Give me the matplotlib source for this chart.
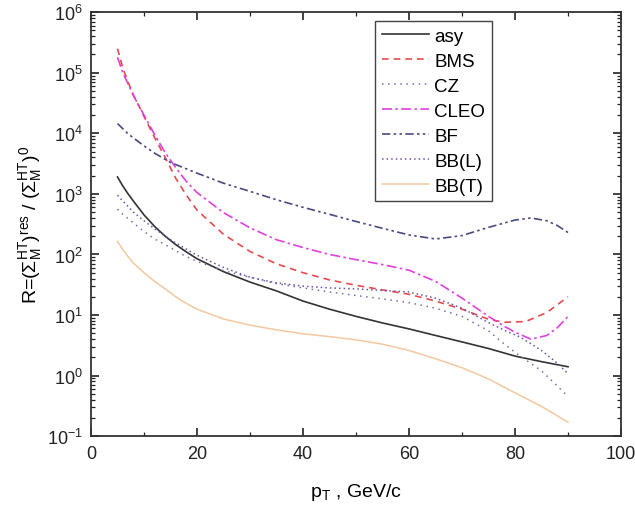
import matplotlib
matplotlib.use("Agg")
import matplotlib.pyplot as plt
from matplotlib.ticker import MultipleLocator, LogLocator, NullFormatter

plt.rcParams['font.family'] = ['Liberation Sans', 'DejaVu Sans']
plt.rcParams['mathtext.fontset'] = 'custom'
plt.rcParams['mathtext.rm'] = 'Liberation Sans'
plt.rcParams['mathtext.it'] = 'Liberation Sans:italic'

# values
asy_x = [5, 6, 7, 8, 10, 12, 14, 16, 18, 20, 25, 30, 35, 40, 45, 50, 55, 60, 65, 70, 75, 80, 85, 90]
asy_y = [1900, 1350, 1000, 760, 450, 290, 200, 145, 110, 85, 52, 35, 25, 17, 12.5, 9.5, 7.4, 5.9, 4.6, 3.6, 2.8, 2.1, 1.7, 1.4]

bms_x = [5, 6, 7, 8, 10, 12, 14, 16, 18, 20, 25, 30, 35, 40, 45, 50, 55, 60, 65, 70, 75, 78, 82, 86, 90]
bms_y = [2.5e5, 1.2e5, 7e4, 4.3e4, 1.9e4, 8500, 4000, 1800, 950, 540, 215, 112, 70, 50, 38, 31, 26, 22, 17, 12.5, 8.5, 7.6, 7.8, 11, 20]

cz_x = [5, 6, 7, 8, 10, 12, 14, 16, 18, 20, 25, 30, 35, 40, 45, 50, 55, 60, 65, 70, 75, 78, 81, 85, 88, 90]
cz_y = [560, 460, 390, 330, 240, 180, 145, 115, 92, 77, 54, 42, 33, 28, 24, 21, 18.5, 16, 13, 9.5, 5.5, 3.3, 2.1, 1.2, 0.67, 0.45]

cleo_x = [5, 6, 7, 8, 10, 12, 14, 16, 18, 20, 25, 30, 35, 40, 45, 50, 55, 60, 65, 70, 75, 78, 80, 83, 86, 88, 90]
cleo_y = [1.8e5, 1.0e5, 6.5e4, 4.2e4, 2.0e4, 9500, 4800, 2700, 1600, 1050, 490, 275, 175, 130, 100, 82, 68, 55, 36, 19, 9.5, 6.5, 5.2, 4.0, 4.6, 6.2, 9.5]

bf_x = [5, 7, 10, 12, 15, 20, 25, 30, 35, 40, 45, 50, 55, 60, 65, 70, 75, 80, 83, 86, 88, 90]
bf_y = [1.45e4, 9800, 6200, 4700, 3300, 2200, 1500, 1100, 800, 600, 460, 350, 270, 210, 180, 205, 280, 370, 400, 360, 300, 230]

bbl_x = [5, 6, 7, 8, 10, 12, 14, 16, 18, 20, 25, 30, 35, 40, 45, 50, 55, 60, 65, 70, 75, 78, 81, 85, 88, 90]
bbl_y = [950, 760, 620, 500, 360, 265, 200, 155, 122, 97, 61, 42, 34, 30, 28, 27, 25.5, 24, 19, 13, 7.5, 5.6, 4.3, 2.6, 1.6, 1.07]

bbt_x = [5, 6, 7, 8, 10, 12, 14, 16, 18, 20, 25, 30, 35, 40, 45, 50, 55, 60, 65, 70, 75, 80, 85, 90]
bbt_y = [165, 120, 92, 72, 50, 36, 27, 20, 15.5, 12.5, 8.6, 6.8, 5.7, 4.9, 4.4, 3.9, 3.3, 2.6, 1.9, 1.35, 0.88, 0.52, 0.31, 0.17]

fig = plt.figure(figsize=(6.35, 5.06), dpi=100)
ax = fig.add_axes([0.1433, 0.136, 0.8347, 0.838])

ax.plot(asy_x, asy_y, color='#333333', lw=1.2, ls='-', label='asy')
ax.plot(bms_x, bms_y, color='#e64a4c', lw=1.2, ls=(0, (4, 3)), label='BMS')
ax.plot(cz_x, cz_y, color='#7070b0', lw=1.1, ls=(0, (1, 3)), label='CZ')
ax.plot(cleo_x, cleo_y, color='#e040e0', lw=1.2, ls=(0, (6, 2, 1.5, 2)), label='CLEO')
ax.plot(bf_x, bf_y, color='#4a4a80', lw=1.2, ls=(0, (5, 2, 1.5, 2, 1.5, 2)), label='BF')
ax.plot(bbl_x, bbl_y, color='#7050a8', lw=1.1, ls=(0, (1, 2)), label='BB(L)')
ax.plot(bbt_x, bbt_y, color='#f2c8a0', lw=1.1, ls='-', label='BB(T)')

ax.set_yscale('log')
ax.set_xlim(0, 100)
ax.set_ylim(1e-1, 1e6)

ax.xaxis.set_major_locator(MultipleLocator(20))
ax.xaxis.set_minor_locator(MultipleLocator(10))
ax.yaxis.set_major_locator(LogLocator(base=10, numticks=10))
ax.yaxis.set_minor_locator(LogLocator(base=10, subs=range(2, 10), numticks=10))
ax.yaxis.set_minor_formatter(NullFormatter())

ax.tick_params(which='both', direction='in', top=True, right=True, labelsize=13, colors='#222222')
ax.tick_params(which='major', length=6, width=1.2, pad=6)
ax.tick_params(which='minor', length=3, width=0.9)
for s in ax.spines.values():
    s.set_linewidth(1.3)
    s.set_color('#333333')

ax.set_xlabel(r'p$_{\mathrm{T}}$ , GeV/c', fontsize=14, labelpad=14)
ax.set_ylabel(r'R=$(\Sigma_{\mathrm{M}}^{\mathrm{HT}})^{\mathrm{res}}$ / $(\Sigma_{\mathrm{M}}^{\mathrm{HT}})^{0}$',
              fontsize=14, labelpad=2)

leg = ax.legend(loc='upper left', bbox_to_anchor=(0.536, 0.979), borderaxespad=0,
                fontsize=13.5, handlelength=2.5, labelspacing=0.42, borderpad=0.35,
                handletextpad=0.3, fancybox=False, framealpha=1)
leg.get_frame().set_edgecolor('#444444')
leg.get_frame().set_linewidth(1.0)

fig.savefig('out.png', dpi=100)
